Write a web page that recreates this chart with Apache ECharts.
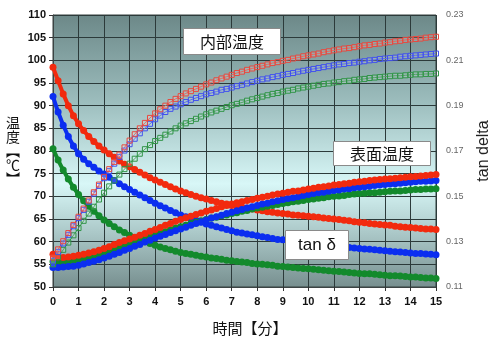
<!DOCTYPE html>
<html>
<head>
<meta charset="utf-8">
<script src="https://cdn.jsdelivr.net/npm/echarts@6/dist/echarts.min.js"></script>
<style>
  html, body { margin: 0; padding: 0; background: #ffffff; }
  #chart { width: 500px; height: 341px; }
</style>
</head>
<body>
<div id="chart"></div>
<script>
// Sampling times [min], every 0.2 min
const minutes = [
  0,
  0.2, 0.4, 0.6, 0.8, 1.0,
  1.2, 1.4, 1.6, 1.8, 2.0,
  2.2, 2.4, 2.6, 2.8, 3.0,
  3.2, 3.4, 3.6, 3.8, 4.0,
  4.2, 4.4, 4.6, 4.8, 5.0,
  5.2, 5.4, 5.6, 5.8, 6.0,
  6.2, 6.4, 6.6, 6.8, 7.0,
  7.2, 7.4, 7.6, 7.8, 8.0,
  8.2, 8.4, 8.6, 8.8, 9.0,
  9.2, 9.4, 9.6, 9.8, 10.0,
  10.2, 10.4, 10.6, 10.8, 11.0,
  11.2, 11.4, 11.6, 11.8, 12.0,
  12.2, 12.4, 12.6, 12.8, 13.0,
  13.2, 13.4, 13.6, 13.8, 14.0,
  14.2, 14.4, 14.6, 14.8, 15.0
];

// 内部温度 [℃]
const innerRed = [
  56.5,
  58.3, 60.1, 61.9, 63.7, 65.5,
  67.3, 69.1, 70.9, 72.6, 74.3,
  76.0, 77.6, 79.2, 80.8, 82.3,
  83.7, 85.0, 86.2, 87.3, 88.3,
  89.2, 90.0, 90.8, 91.5, 92.1,
  92.7, 93.2, 93.7, 94.2, 94.7,
  95.1, 95.6, 96.0, 96.4, 96.8,
  97.2, 97.5, 97.9, 98.2, 98.5,
  98.8, 99.1, 99.4, 99.6, 99.9,
  100.1, 100.4, 100.6, 100.9, 101.1,
  101.3, 101.5, 101.8, 102.0, 102.2,
  102.4, 102.6, 102.7, 102.9, 103.1,
  103.3, 103.4, 103.6, 103.7, 103.9,
  104.0, 104.2, 104.3, 104.5, 104.6,
  104.7, 104.8, 105.0, 105.1, 105.2
];
const innerBlue = [
  55.8,
  57.7, 59.6, 61.5, 63.4, 65.2,
  67.0, 68.8, 70.6, 72.3, 74.0,
  75.6, 77.2, 78.7, 80.1, 81.5,
  82.7, 83.9, 85.0, 86.0, 87.0,
  87.8, 88.6, 89.3, 89.8, 90.3,
  90.8, 91.3, 91.7, 92.1, 92.5,
  92.8, 93.1, 93.5, 93.7, 94.0,
  94.3, 94.6, 94.9, 95.2, 95.5,
  95.8, 96.0, 96.3, 96.5, 96.8,
  97.0, 97.2, 97.5, 97.7, 97.9,
  98.1, 98.3, 98.5, 98.7, 98.9,
  99.1, 99.2, 99.4, 99.5, 99.7,
  99.8, 100.0, 100.1, 100.3, 100.4,
  100.5, 100.6, 100.8, 100.9, 101.0,
  101.1, 101.2, 101.3, 101.4, 101.5
];
const innerGreen = [
  55.0,
  56.6, 58.2, 59.8, 61.4, 63.0,
  64.6, 66.2, 67.7, 69.3, 70.8,
  72.2, 73.5, 74.8, 76.0, 77.2,
  78.3, 79.4, 80.4, 81.3, 82.2,
  82.9, 83.6, 84.3, 85.0, 85.6,
  86.1, 86.6, 87.1, 87.6, 88.1,
  88.5, 88.9, 89.3, 89.7, 90.1,
  90.4, 90.7, 91.1, 91.4, 91.7,
  92.0, 92.3, 92.6, 92.8, 93.1,
  93.3, 93.5, 93.8, 94.0, 94.2,
  94.4, 94.6, 94.8, 94.9, 95.1,
  95.2, 95.4, 95.5, 95.7, 95.8,
  95.9, 96.1, 96.2, 96.3, 96.4,
  96.5, 96.6, 96.6, 96.7, 96.8,
  96.9, 96.9, 97.0, 97.0, 97.1
];

// 表面温度 [℃]
const surfaceRed = [
  57.2,
  56.6, 56.5, 56.6, 56.8, 57.0,
  57.2, 57.5, 57.8, 58.1, 58.5,
  58.9, 59.4, 59.8, 60.2, 60.6,
  61.0, 61.4, 61.8, 62.3, 62.7,
  63.1, 63.6, 64.0, 64.5, 64.9,
  65.3, 65.6, 66.0, 66.3, 66.7,
  67.0, 67.3, 67.7, 68.0, 68.3,
  68.6, 68.8, 69.1, 69.3, 69.6,
  69.8, 70.0, 70.3, 70.5, 70.7,
  70.9, 71.1, 71.2, 71.4, 71.6,
  71.8, 72.0, 72.1, 72.3, 72.5,
  72.6, 72.8, 72.9, 73.1, 73.2,
  73.3, 73.5, 73.6, 73.7, 73.8,
  73.9, 74.0, 74.1, 74.2, 74.3,
  74.4, 74.5, 74.6, 74.7, 74.8
];
const surfaceBlue = [
  54.3,
  54.3, 54.4, 54.5, 54.6, 54.8,
  55.1, 55.4, 55.7, 56.0, 56.4,
  56.8, 57.2, 57.6, 58.1, 58.5,
  59.0, 59.4, 59.9, 60.3, 60.8,
  61.2, 61.6, 62.0, 62.4, 62.8,
  63.2, 63.6, 64.0, 64.4, 64.8,
  65.2, 65.5, 65.8, 66.2, 66.5,
  66.8, 67.1, 67.4, 67.7, 68.0,
  68.3, 68.5, 68.8, 69.0, 69.3,
  69.5, 69.7, 69.9, 70.2, 70.4,
  70.6, 70.8, 70.9, 71.1, 71.3,
  71.4, 71.6, 71.7, 71.9, 72.0,
  72.1, 72.2, 72.4, 72.5, 72.6,
  72.7, 72.8, 72.9, 73.0, 73.1,
  73.2, 73.3, 73.3, 73.4, 73.5
];
const surfaceGreen = [
  55.6,
  55.5, 55.5, 55.6, 55.8, 56.0,
  56.3, 56.6, 56.9, 57.2, 57.5,
  57.9, 58.3, 58.7, 59.1, 59.5,
  59.9, 60.3, 60.7, 61.1, 61.5,
  61.9, 62.2, 62.6, 63.0, 63.3,
  63.6, 64.0, 64.3, 64.6, 64.9,
  65.2, 65.4, 65.7, 65.9, 66.2,
  66.4, 66.7, 66.9, 67.2, 67.4,
  67.6, 67.8, 68.0, 68.2, 68.4,
  68.6, 68.8, 68.9, 69.1, 69.3,
  69.4, 69.6, 69.7, 69.9, 70.0,
  70.1, 70.2, 70.4, 70.5, 70.6,
  70.7, 70.8, 70.8, 70.9, 71.0,
  71.1, 71.2, 71.2, 71.3, 71.4,
  71.5, 71.5, 71.6, 71.6, 71.7
];

// tan δ (right axis)
const tanRed = [
  0.2070,
  0.2010, 0.1952, 0.1900, 0.1856, 0.1820,
  0.1790, 0.1764, 0.1742, 0.1722, 0.1704,
  0.1688, 0.1672, 0.1656, 0.1642, 0.1630,
  0.1618, 0.1606, 0.1594, 0.1582, 0.1572,
  0.1562, 0.1552, 0.1542, 0.1532, 0.1524,
  0.1516, 0.1508, 0.1500, 0.1494, 0.1488,
  0.1482, 0.1476, 0.1470, 0.1466, 0.1460,
  0.1456, 0.1452, 0.1448, 0.1444, 0.1440,
  0.1436, 0.1432, 0.1430, 0.1426, 0.1424,
  0.1422, 0.1418, 0.1416, 0.1414, 0.1412,
  0.1410, 0.1408, 0.1404, 0.1402, 0.1400,
  0.1398, 0.1394, 0.1392, 0.1388, 0.1386,
  0.1384, 0.1380, 0.1378, 0.1376, 0.1374,
  0.1372, 0.1368, 0.1366, 0.1364, 0.1362,
  0.1360, 0.1358, 0.1356, 0.1356, 0.1354
];
const tanBlue = [
  0.1940,
  0.1872, 0.1814, 0.1764, 0.1722, 0.1688,
  0.1664, 0.1644, 0.1628, 0.1612, 0.1598,
  0.1584, 0.1570, 0.1556, 0.1542, 0.1530,
  0.1518, 0.1506, 0.1494, 0.1482, 0.1470,
  0.1458, 0.1448, 0.1438, 0.1428, 0.1418,
  0.1410, 0.1402, 0.1394, 0.1386, 0.1378,
  0.1372, 0.1366, 0.1360, 0.1354, 0.1348,
  0.1342, 0.1338, 0.1334, 0.1330, 0.1326,
  0.1322, 0.1318, 0.1314, 0.1310, 0.1308,
  0.1304, 0.1302, 0.1298, 0.1296, 0.1294,
  0.1290, 0.1288, 0.1286, 0.1282, 0.1280,
  0.1278, 0.1276, 0.1274, 0.1272, 0.1270,
  0.1268, 0.1266, 0.1264, 0.1262, 0.1260,
  0.1258, 0.1256, 0.1254, 0.1252, 0.1250,
  0.1248, 0.1248, 0.1246, 0.1244, 0.1242
];
const tanGreen = [
  0.1710,
  0.1660, 0.1616, 0.1576, 0.1540, 0.1508,
  0.1480, 0.1456, 0.1434, 0.1414, 0.1396,
  0.1380, 0.1366, 0.1352, 0.1340, 0.1328,
  0.1318, 0.1308, 0.1300, 0.1292, 0.1284,
  0.1276, 0.1270, 0.1264, 0.1258, 0.1252,
  0.1248, 0.1244, 0.1240, 0.1236, 0.1232,
  0.1228, 0.1226, 0.1222, 0.1218, 0.1216,
  0.1212, 0.1210, 0.1208, 0.1204, 0.1202,
  0.1200, 0.1198, 0.1196, 0.1192, 0.1190,
  0.1188, 0.1186, 0.1184, 0.1182, 0.1180,
  0.1178, 0.1176, 0.1174, 0.1172, 0.1170,
  0.1168, 0.1166, 0.1164, 0.1162, 0.1160,
  0.1158, 0.1158, 0.1156, 0.1154, 0.1152,
  0.1150, 0.1150, 0.1148, 0.1146, 0.1144,
  0.1144, 0.1142, 0.1140, 0.1140, 0.1138
];

// Axis ranges and tick settings
const tempAxis = { min: 50, max: 110, interval: 5 };
const tanAxis = { min: 0.11, max: 0.23, interval: 0.02 };
const timeAxis = { min: 0, max: 15, interval: 1 };

const RED = '#f22a0e', BLUE = '#0b2ef0', GREEN = '#138a2c';
const RED_SQ = '#e8483e', BLUE_SQ = '#4050ee', GREEN_SQ = '#2f9446';

function pairs(vals) {
  return minutes.map((t, i) => [t, vals[i]]);
}

function thickSeries(name, vals, color, yAxisIndex) {
  return {
    name, type: 'line', yAxisIndex, data: pairs(vals),
    symbol: 'circle', symbolSize: 7, showSymbol: true,
    lineStyle: { color, width: 4 },
    itemStyle: { color },
    emphasis: { disabled: true }
  };
}

function squareSeries(name, vals, color) {
  return {
    name, type: 'line', yAxisIndex: 0, data: pairs(vals),
    symbol: 'rect', symbolSize: 5, showSymbol: true,
    lineStyle: { color, width: 1 },
    itemStyle: { color: 'rgba(255,255,255,0.15)', borderColor: color, borderWidth: 1 },
    emphasis: { disabled: true }
  };
}

const chart = echarts.init(document.getElementById('chart'), null, { renderer: 'canvas' });

const labelFont = 'Liberation Sans, Arial, sans-serif';
const cjkFont = '"Noto Sans CJK JP", "Noto Sans CJK SC", sans-serif';

// Callout box: white rectangle with a centred caption, drawn above the plot
function callout(left, top, w, h, text, font) {
  return {
    type: 'group', left, top, z: 100,
    children: [
      { type: 'rect', z: 100, shape: { x: 0, y: 0, width: w, height: h },
        style: { fill: '#ffffff', stroke: '#8a8a8a', lineWidth: 1 } },
      { type: 'text', z: 101, x: w / 2, y: h / 2,
        style: { text, fill: '#111', font, align: 'center', verticalAlign: 'middle' } }
    ]
  };
}

chart.setOption({
  animation: false,
  backgroundColor: '#ffffff',
  grid: {
    left: 53, right: 54, top: 15, bottom: 54,
    show: true,
    borderColor: '#34403f', borderWidth: 1,
    backgroundColor: new echarts.graphic.LinearGradient(0, 0, 0, 1, [
      { offset: 0, color: '#6c8888' },
      { offset: 0.32, color: '#9cbdbd' },
      { offset: 0.62, color: '#d8f7f7' },
      { offset: 0.8, color: '#abc8c8' },
      { offset: 1, color: '#778f8f' }
    ])
  },
  xAxis: {
    type: 'value', min: timeAxis.min, max: timeAxis.max, interval: timeAxis.interval,
    axisLine: { show: true, lineStyle: { color: '#3c4444', width: 1 } },
    axisTick: { show: true, length: 4, lineStyle: { color: '#333' } },
    axisLabel: { color: '#111', fontWeight: 'bold', fontSize: 11, fontFamily: labelFont, margin: 9 },
    splitLine: { show: true, lineStyle: { color: '#2c3a3a', width: 1 } }
  },
  yAxis: [
    {
      type: 'value', min: tempAxis.min, max: tempAxis.max, interval: tempAxis.interval,
      position: 'left',
      axisLine: { show: true, lineStyle: { color: '#3c4444', width: 1 } },
      axisTick: { show: true, length: 4, lineStyle: { color: '#333' } },
      axisLabel: { color: '#111', fontWeight: 'bold', fontSize: 11, fontFamily: labelFont, margin: 7 },
      splitLine: { show: true, lineStyle: { color: '#2c3a3a', width: 1 } }
    },
    {
      type: 'value', min: tanAxis.min, max: tanAxis.max, interval: tanAxis.interval,
      position: 'right',
      name: 'tan delta', nameLocation: 'middle', nameRotate: 90, nameGap: 40,
      nameTextStyle: { color: '#222', fontSize: 16, fontFamily: labelFont },
      axisLine: { show: false },
      axisTick: { show: false },
      axisLabel: {
        color: '#666', fontSize: 9, fontFamily: labelFont, margin: 10,
        formatter: v => v.toFixed(2)
      },
      splitLine: { show: false }
    }
  ],
  graphic: [
    {
      type: 'text', left: 6, top: 116, z: 100,
      style: {
        text: '温\n度\n︻\n℃\n︼', fill: '#111', font: '14px ' + cjkFont,
        lineHeight: 14, align: 'center'
      }
    },
    {
      type: 'text', left: 'center', top: 321, z: 100,
      style: { text: '時間【分】', fill: '#111', font: '15px ' + cjkFont }
    },
    callout(183, 28, 97, 26, '内部温度', '16px ' + cjkFont),
    callout(333, 141, 97, 24, '表面温度', '16px ' + cjkFont),
    callout(285, 230, 63, 29, 'tan δ', '17px ' + labelFont)
  ],
  series: [
    thickSeries('tanδ 緑', tanGreen, GREEN, 1),
    thickSeries('tanδ 青', tanBlue, BLUE, 1),
    thickSeries('tanδ 赤', tanRed, RED, 1),
    thickSeries('表面温度 緑', surfaceGreen, GREEN, 0),
    thickSeries('表面温度 青', surfaceBlue, BLUE, 0),
    thickSeries('表面温度 赤', surfaceRed, RED, 0),
    squareSeries('内部温度 緑', innerGreen, GREEN_SQ),
    squareSeries('内部温度 青', innerBlue, BLUE_SQ),
    squareSeries('内部温度 赤', innerRed, RED_SQ)
  ]
});
</script>
</body>
</html>
